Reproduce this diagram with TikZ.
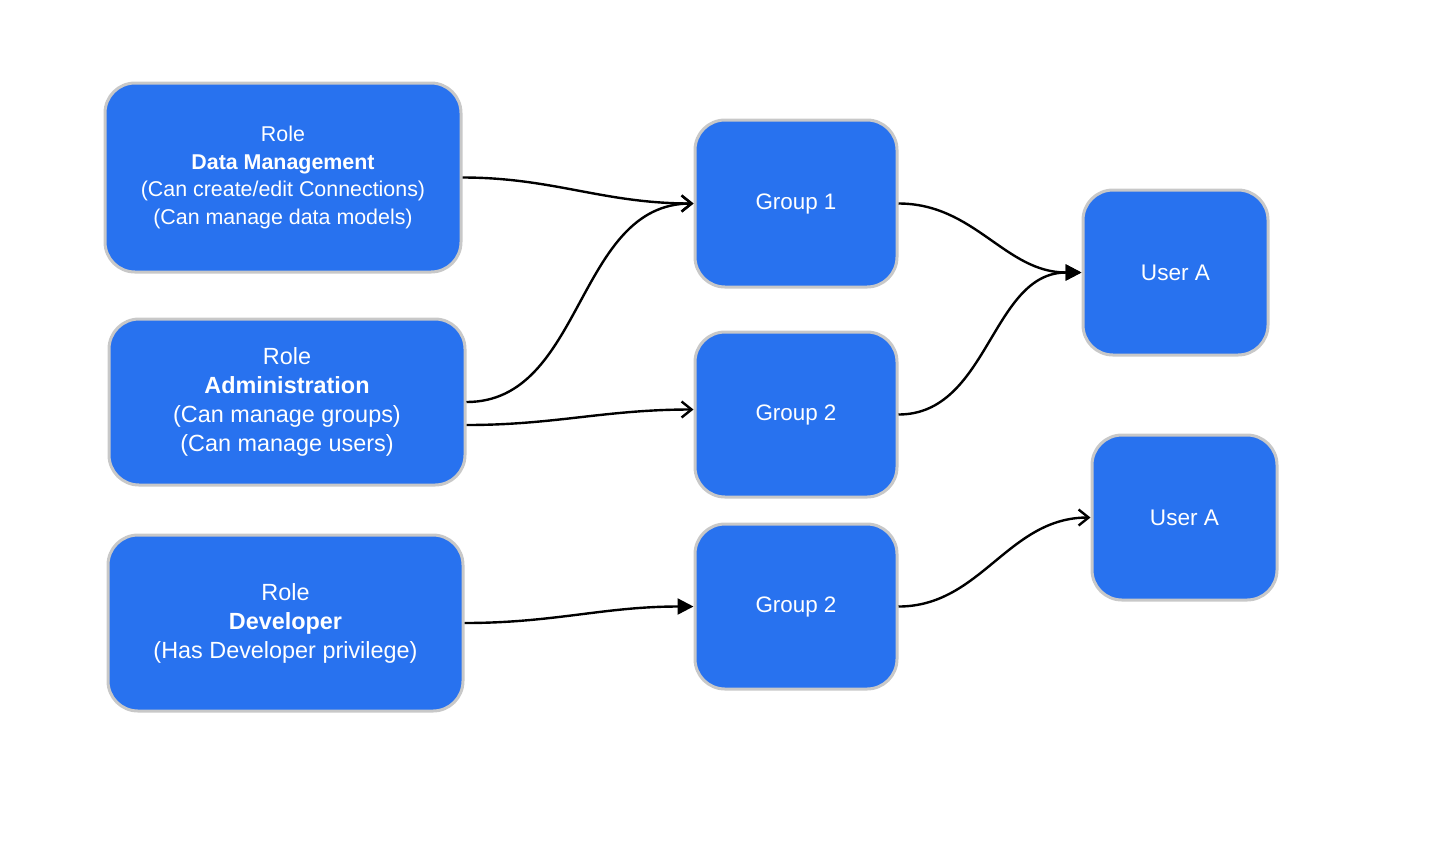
\documentclass[tikz,border=0pt]{standalone}
\usepackage{fontspec}
\setmainfont{Liberation Sans}
\usetikzlibrary{arrows.meta}
\definecolor{boxblue}{HTML}{2872EF}
\definecolor{boxedge}{HTML}{C8C8C8}
\tikzset{
    box/.style={draw=boxedge, line width=1.5pt, fill=boxblue, rounded corners=15pt,
        text=white, align=center, inner sep=0pt},
    barb/.style={-{Straight Barb[length=5pt,width=8pt]}, line width=1.2pt},
    tri/.style={-{Triangle[length=8pt,width=8pt]}, line width=1.2pt},
}
\begin{document}
\begin{tikzpicture}[x=0.5pt, y=-0.5pt]
        \useasboundingbox (0,0) rectangle (1440,864);

        % roles
        \node[box, minimum width=178pt, minimum height=94.5pt,
            font=\fontsize{10.7}{13.8}\selectfont] (dm) at (283,177.5)
            {Role\\\textbf{Data Management}\\(Can create/edit Connections)\\(Can manage data models)};
        \node[box, minimum width=178pt, minimum height=83pt,
            font=\fontsize{11.7}{14.5}\selectfont] (adm) at (287,402)
            {Role\\\textbf{Administration}\\(Can manage groups)\\(Can manage users)};
        \node[box, minimum width=177.5pt, minimum height=88pt,
            font=\fontsize{11.7}{14.5}\selectfont] (dev) at (285.5,623)
            {Role\\\textbf{Developer}\\(Has Developer privilege)};

        % groups
        \node[box, minimum width=101pt, minimum height=83.5pt,
            font=\fontsize{11.2}{14}\selectfont] (g1) at (796,203.5) {Group 1};
        \node[box, minimum width=101pt, minimum height=82.5pt,
            font=\fontsize{11.2}{14}\selectfont] (g2) at (796,414.5) {Group 2};
        \node[box, minimum width=101pt, minimum height=82.5pt,
            font=\fontsize{11.2}{14}\selectfont] (g3) at (796,606.5) {Group 2};

        % users
        \node[box, minimum width=92.5pt, minimum height=82.5pt,
            font=\fontsize{11.3}{14}\selectfont] (u1) at (1175.5,272.5) {User A};
        \node[box, minimum width=92.5pt, minimum height=82.5pt,
            font=\fontsize{11.3}{14}\selectfont] (u2) at (1184.5,517.5) {User A};

        % connectors
        \draw[barb] (dm.east) to[out=0, in=180] (g1.west);
        \draw[barb] (adm.east) to[out=0, in=180] (g1.west);
        \draw[barb] ([yshift=-11.5pt]adm.east) to[out=0, in=180] ([yshift=2.5pt]g2.west);
        \draw[tri] (dev.east) to[out=0, in=180] (g3.west);
        \draw[tri] (g1.east) to[out=0, in=180] (u1.west);
        \draw[tri] (g2.east) to[out=0, in=180] (u1.west);
        \draw[barb] (g3.east) to[out=0, in=180] (u2.west);
    \end{tikzpicture}
\end{document}
